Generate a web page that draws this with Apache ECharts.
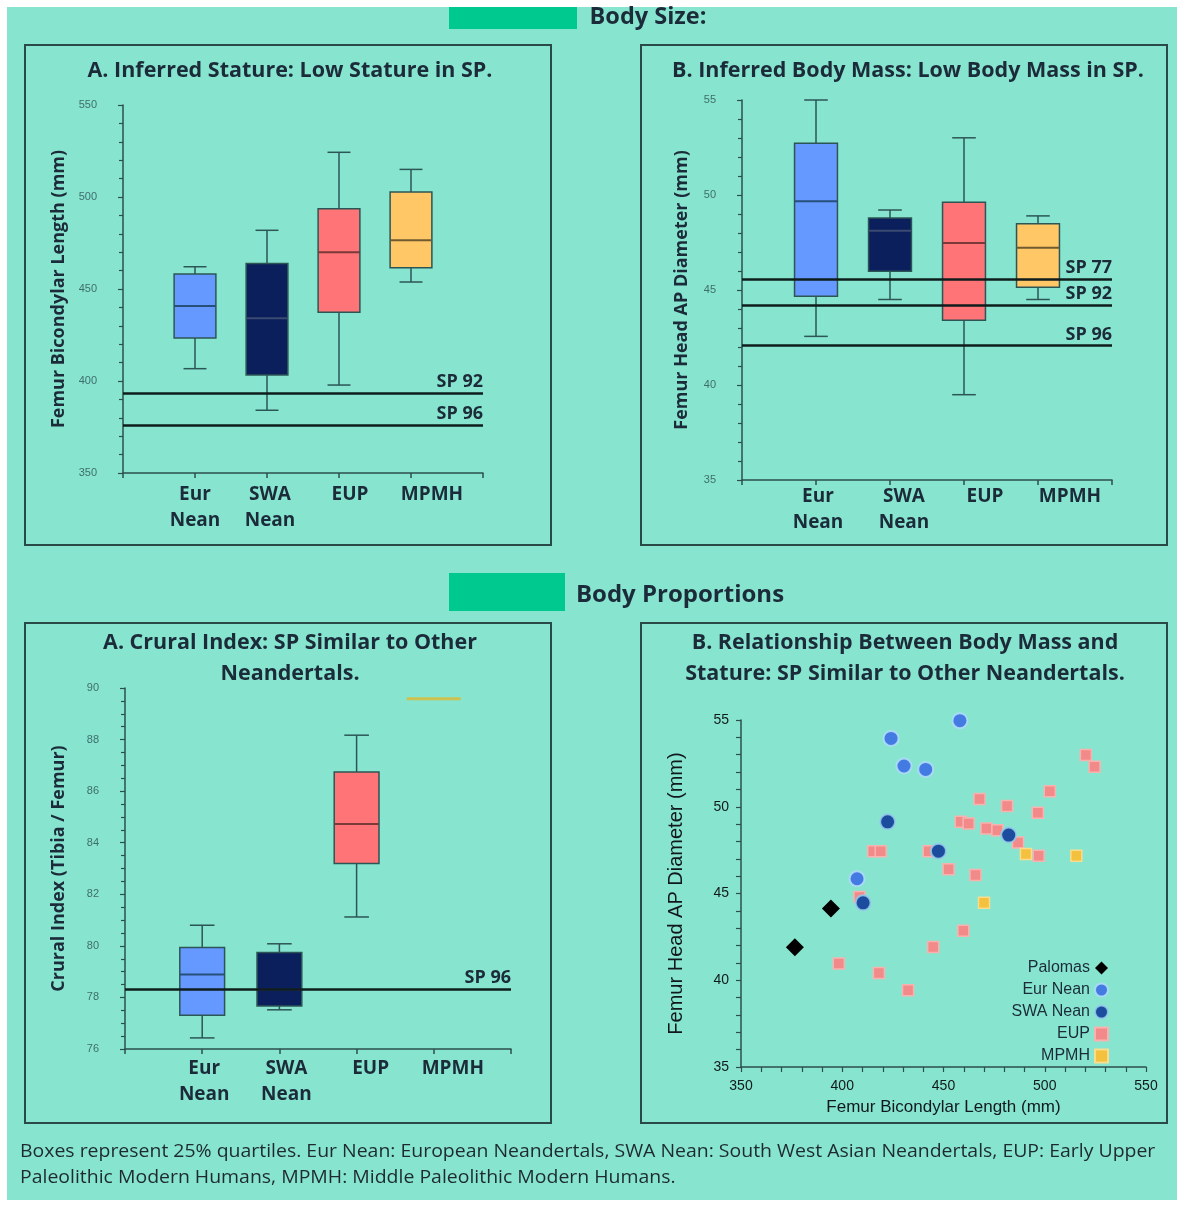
<!DOCTYPE html>
<html>
<head>
<meta charset="utf-8">
<script src="https://cdn.jsdelivr.net/npm/echarts@6/dist/echarts.min.js"></script>
<style>
html,body{margin:0;padding:0;background:#ffffff;}
#chart{width:1177px;height:1207px;}
</style>
</head>
<body>
<div id="chart"></div>
<script>
// ---------- DATA ----------
const categories = ['', 'Eur\nNean', 'SWA\nNean', 'EUP', 'MPMH', ''];
const groupNames = ['Eur Nean', 'SWA Nean', 'EUP', 'MPMH'];

// [min, Q1, median, Q3, max]
const statureBoxes = [
  [406.7, 423.4, 440.8, 458.2, 462.1],
  [384.1, 403.3, 434.1, 463.8, 481.9],
  [397.8, 437.3, 470.0, 493.6, 524.3],
  [453.8, 461.6, 476.5, 502.7, 515.0]
];
const statureSP = [393.6, 376.1];
const statureSPLabels = ['SP 92', 'SP 96'];

const massBoxes = [
  [42.56, 44.67, 49.67, 52.73, 55.0],
  [44.5, 45.99, 48.12, 48.79, 49.21],
  [39.49, 43.41, 47.47, 49.62, 53.01],
  [44.5, 45.15, 47.23, 48.49, 48.9]
];
const massSP = [45.59, 44.2, 42.07];
const massSPLabels = ['SP 77', 'SP 92', 'SP 96'];

const cruralBoxes = [
  [76.43, 77.31, 78.89, 79.94, 80.8],
  [77.52, 77.67, 78.3, 79.74, 80.08],
  [81.12, 83.19, 84.73, 86.74, 88.17],
  [89.58, 89.58, 89.58, 89.58, 89.58]
];
const cruralSP = [78.32];
const cruralSPLabels = ['SP 96'];

// scatter: [femur bicondylar length, femur head AP diameter]
const palomasPts = [[376.6, 41.9], [394.4, 44.13]];
const eurNeanPts = [[424.1, 53.94], [458.1, 54.96], [430.5, 52.35], [441.2, 52.15], [407.3, 45.85]];
const swaNeanPts = [[422.4, 49.13], [447.5, 47.44], [482.2, 48.37], [410.3, 44.46]];
const eupPts = [
  [520.3, 52.98], [524.6, 52.31], [502.5, 50.9], [467.8, 50.44], [481.4, 50.04],
  [496.6, 49.65], [458.5, 49.13], [462.4, 49.04], [471.2, 48.75], [476.6, 48.65],
  [486.8, 47.94], [415.3, 47.44], [419.0, 47.44], [442.7, 47.44], [497.0, 47.17],
  [452.5, 46.4], [465.8, 46.06], [408.5, 44.8], [459.8, 42.85], [444.9, 41.92],
  [398.3, 40.96], [418.1, 40.42], [432.5, 39.42]
];
const mpmhPts = [[490.7, 47.27], [515.6, 47.17], [470.0, 44.46]];

// ---------- STYLE ----------
const boxFills = ['#6699ff', '#0b1f5c', '#ff7477', '#ffc766'];
const medianColors = ['#26507a', '#3a4a70', '#7a3a3a', '#6f5a32'];
const boxStroke = '#2c5556';
const axisColor = '#2c4f4d';
const darkText = '#1c2b3a';

const chart = echarts.init(document.getElementById('chart'), null, {renderer: 'canvas'});

function boxRender(params, api) {
  const xi = api.value(0);
  const lo = api.coord([xi, api.value(1)]);
  const q1 = api.coord([xi, api.value(2)]);
  const md = api.coord([xi, api.value(3)]);
  const q3 = api.coord([xi, api.value(4)]);
  const hi = api.coord([xi, api.value(5)]);
  const band = api.size([1, 0])[0];
  const bw = band * 0.58;
  const cw = bw * 0.55;
  const cx = lo[0];
  const fill = boxFills[xi - 1];
  if (Math.abs(q1[1] - q3[1]) < 0.5) {
    const w = band * 0.7;
    return {type: 'line', shape: {x1: cx - w / 2, y1: md[1], x2: cx + w / 2, y2: md[1]},
      style: {stroke: '#d9bc3a', lineWidth: 3, opacity: 0.85}};
  }
  const ws = {stroke: boxStroke, lineWidth: 1.5};
  return {type: 'group', children: [
    {type: 'line', shape: {x1: cx, y1: hi[1], x2: cx, y2: lo[1]}, style: ws},
    {type: 'line', shape: {x1: cx - cw / 2, y1: hi[1], x2: cx + cw / 2, y2: hi[1]}, style: ws},
    {type: 'line', shape: {x1: cx - cw / 2, y1: lo[1], x2: cx + cw / 2, y2: lo[1]}, style: ws},
    {type: 'rect', shape: {x: cx - bw / 2, y: q3[1], width: bw, height: q1[1] - q3[1]},
      style: {fill: fill, stroke: boxStroke, lineWidth: 1.5}},
    {type: 'line', shape: {x1: cx - bw / 2, y1: md[1], x2: cx + bw / 2, y2: md[1]},
      style: {stroke: medianColors[xi - 1], lineWidth: 2}}
  ]};
}

function catAxis(gridIndex, offsets, margin) {
  const rich = {};
  offsets.forEach((o, i) => {
    rich['c' + (i + 1)] = {fontSize: 19, fontWeight: 'bold', fontFamily: 'Open Sans', color: darkText,
      lineHeight: 26, padding: [0, 0, 0, 2 * o]};
  });
  return {
    gridIndex: gridIndex, type: 'category', data: categories, boundaryGap: false,
    axisLine: {show: true, lineStyle: {color: axisColor, width: 1.5}},
    axisTick: {show: true, length: 5, interval: 0, lineStyle: {color: axisColor, width: 1.5}},
    axisLabel: {interval: 0, margin: margin, lineHeight: 26,
      formatter: function (val, idx) {
        if (!val) return '';
        return val.split('\n').map(s => '{c' + idx + '|' + s + '}').join('\n');
      }, rich: rich},
    splitLine: {show: false}
  };
}

function valAxis(gridIndex, min, max, interval, minorSplit, name, nameGap) {
  return {
    gridIndex: gridIndex, type: 'value', min: min, max: max, interval: interval,
    axisLine: {show: true, lineStyle: {color: axisColor, width: 1.5}},
    axisTick: {show: true, length: 5, lineStyle: {color: axisColor, width: 1.2}},
    minorTick: {show: true, splitNumber: minorSplit, length: 4, lineStyle: {color: axisColor, width: 1.2}},
    splitLine: {show: false},
    axisLabel: {fontSize: 11, color: '#3f6e6a', margin: 26, fontFamily: 'Liberation Sans'},
    name: name, nameLocation: 'middle', nameGap: nameGap,
    nameTextStyle: {fontSize: 18, fontWeight: 'bold', fontFamily: 'Open Sans', color: darkText}
  };
}

function spSeries(xi, yi, values, labels) {
  return {
    type: 'line', xAxisIndex: xi, yAxisIndex: yi, data: [], silent: true,
    markLine: {
      silent: true, symbol: 'none', animation: false,
      lineStyle: {color: '#0f1c1c', width: 2.5, type: 'solid'},
      label: {show: true, position: 'insideEndTop', formatter: '{b}', distance: [0, 2],
        fontSize: 18, fontWeight: 'bold', fontFamily: 'Open Sans', color: darkText},
      emphasis: {disabled: true},
      data: values.map((v, i) => ({yAxis: v, name: labels[i]}))
    }
  };
}

function boxSeries(xi, yi, boxes) {
  return {
    type: 'custom', xAxisIndex: xi, yAxisIndex: yi, renderItem: boxRender, clip: false,
    encode: {x: 0, y: [1, 2, 3, 4, 5]},
    data: boxes.map((b, i) => [i + 1].concat(b)), z: 3
  };
}

const titleFont = {fontSize: 21.5, fontWeight: 'bold', fontFamily: 'Open Sans', fill: darkText};
function txt(x, y, text, style) {
  return {type: 'text', x: x, y: y, style: Object.assign({text: text, textAlign: 'center', textVerticalAlign: 'middle'}, style)};
}
function panelRect(x, y, w, h) {
  return {type: 'rect', shape: {x: x, y: y, width: w, height: h}, style: {fill: 'none', stroke: '#2a4a48', lineWidth: 2}, z: -5};
}
const noteStyle = {textAlign: 'left', textVerticalAlign: 'middle', fontSize: 18, fontFamily: 'Open Sans', fill: '#1e2a30'};

const option = {
  animation: false,
  backgroundColor: '#ffffff',
  graphic: [
    {type: 'rect', shape: {x: 7, y: 7, width: 1170, height: 1193}, style: {fill: '#87e5cf'}, z: -20},
    {type: 'rect', shape: {x: 449, y: 7, width: 128, height: 22}, style: {fill: '#00c98f'}, z: -10},
    {type: 'rect', shape: {x: 449, y: 573, width: 116, height: 38}, style: {fill: '#00c98f'}, z: -10},
    txt(648, 17, 'Body Size:', {fontSize: 23.5, fontWeight: 'bold', fontFamily: 'Open Sans', fill: darkText}),
    txt(680, 595, 'Body Proportions', {fontSize: 24, fontWeight: 'bold', fontFamily: 'Open Sans', fill: darkText}),
    panelRect(25, 45, 526, 500),
    panelRect(641, 45, 526, 500),
    panelRect(25, 623, 526, 500),
    panelRect(641, 623, 526, 500),
    txt(290, 71, 'A. Inferred Stature: Low Stature in SP.', titleFont),
    txt(908, 71, 'B. Inferred Body Mass: Low Body Mass in SP.', titleFont),
    txt(290, 643, 'A. Crural Index: SP Similar to Other', titleFont),
    txt(290, 674, 'Neandertals.', titleFont),
    txt(905, 643, 'B. Relationship Between Body Mass and', titleFont),
    txt(905, 674, 'Stature: SP Similar to Other Neandertals.', titleFont),
    {type: 'text', x: 20, y: 1152, scaleX: 1.08, style: Object.assign({text: 'Boxes represent 25% quartiles. Eur Nean: European Neandertals, SWA Nean: South West Asian Neandertals, EUP: Early Upper'}, noteStyle)},
    {type: 'text', x: 20, y: 1178, scaleX: 1.08, style: Object.assign({text: 'Paleolithic Modern Humans, MPMH: Middle Paleolithic Modern Humans.'}, noteStyle)}
  ],
  grid: [
    {left: 123, top: 105, width: 360, height: 368},
    {left: 742, top: 100, width: 370, height: 380},
    {left: 125, top: 688, width: 386, height: 361},
    {left: 741, top: 720, width: 405, height: 347}
  ],
  xAxis: [
    catAxis(0, [0, 3, 11, 21], 9),
    catAxis(1, [2, 14, 21, 32], 4),
    catAxis(2, [2, 7, 14, 19], 7),
    {
      gridIndex: 3, type: 'value', min: 350, max: 550, interval: 50,
      axisLine: {show: true, lineStyle: {color: axisColor, width: 1.5}},
      axisTick: {show: true, length: 5, lineStyle: {color: axisColor, width: 1.2}},
      minorTick: {show: true, splitNumber: 5, length: 5, lineStyle: {color: axisColor, width: 1.2}},
      splitLine: {show: false},
      axisLabel: {fontSize: 14, color: '#111a1a', margin: 12, fontFamily: 'Liberation Sans'},
      name: 'Femur Bicondylar Length (mm)', nameLocation: 'middle', nameGap: 32,
      nameTextStyle: {fontSize: 17, fontFamily: 'Liberation Sans', color: '#10181c'}
    }
  ],
  yAxis: [
    valAxis(0, 350, 550, 50, 5, 'Femur Bicondylar Length (mm)', 55),
    valAxis(1, 35, 55, 5, 5, 'Femur Head AP Diameter (mm)', 51),
    valAxis(2, 76, 90, 2, 4, 'Crural Index (Tibia / Femur)', 57),
    {
      gridIndex: 3, type: 'value', min: 35, max: 55, interval: 5,
      axisLine: {show: true, lineStyle: {color: axisColor, width: 1.5}},
      axisTick: {show: true, length: 5, lineStyle: {color: axisColor, width: 1.2}},
      minorTick: {show: true, splitNumber: 5, length: 5, lineStyle: {color: axisColor, width: 1.2}},
      splitLine: {show: false},
      axisLabel: {fontSize: 14, color: '#111a1a', margin: 12, fontFamily: 'Liberation Sans'},
      name: 'Femur Head AP Diameter (mm)', nameLocation: 'middle', nameGap: 55,
      nameTextStyle: {fontSize: 20, fontFamily: 'Liberation Sans', color: '#10181c'}
    }
  ],
  legend: {
    data: ['Palomas', 'Eur Nean', 'SWA Nean', 'EUP', 'MPMH'],
    orient: 'vertical', align: 'right', right: 63, top: 955,
    itemWidth: 13, itemHeight: 13, itemGap: 6,
    textStyle: {fontSize: 16, fontFamily: 'Liberation Sans', color: '#1c2b3a'}
  },
  series: [
    boxSeries(0, 0, statureBoxes),
    spSeries(0, 0, statureSP, statureSPLabels),
    boxSeries(1, 1, massBoxes),
    spSeries(1, 1, massSP, massSPLabels),
    boxSeries(2, 2, cruralBoxes),
    spSeries(2, 2, cruralSP, cruralSPLabels),
    {name: 'EUP', type: 'scatter', xAxisIndex: 3, yAxisIndex: 3, symbol: 'rect', symbolSize: 11, data: eupPts,
      itemStyle: {color: '#f28a8a', borderColor: '#f8b3b0', borderWidth: 1.5, opacity: 1}},
    {name: 'MPMH', type: 'scatter', xAxisIndex: 3, yAxisIndex: 3, symbol: 'rect', symbolSize: 11, data: mpmhPts,
      itemStyle: {color: '#f4c13f', borderColor: '#f9dc8c', borderWidth: 1.5, opacity: 1}},
    {name: 'Eur Nean', type: 'scatter', xAxisIndex: 3, yAxisIndex: 3, symbol: 'circle', symbolSize: 15, data: eurNeanPts,
      itemStyle: {color: '#437be2', borderColor: 'rgba(175,220,250,0.9)', borderWidth: 2, opacity: 1}},
    {name: 'SWA Nean', type: 'scatter', xAxisIndex: 3, yAxisIndex: 3, symbol: 'circle', symbolSize: 15, data: swaNeanPts,
      itemStyle: {color: '#1b4c9e', borderColor: 'rgba(150,205,235,0.85)', borderWidth: 2, opacity: 1}},
    {name: 'Palomas', type: 'scatter', xAxisIndex: 3, yAxisIndex: 3, symbol: 'diamond', symbolSize: 18, data: palomasPts,
      itemStyle: {color: '#000000', opacity: 1}}
  ]
};
chart.setOption(option);
</script>
</body>
</html>
